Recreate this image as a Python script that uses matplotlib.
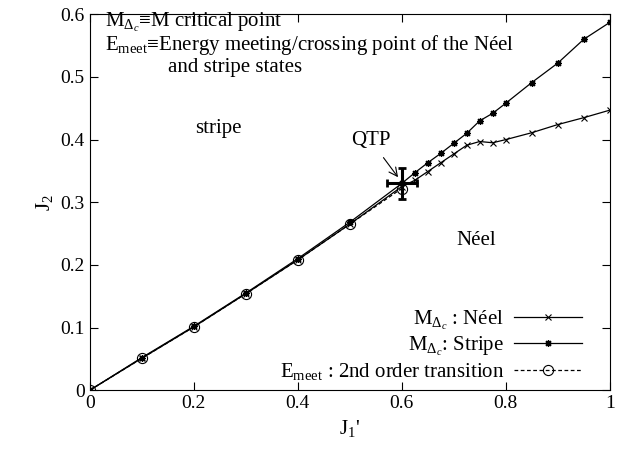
import matplotlib
matplotlib.use("Agg")
import matplotlib.pyplot as plt

plt.rcParams['font.family'] = ['Liberation Serif', 'DejaVu Serif']
plt.rcParams['mathtext.fontset'] = 'custom'
plt.rcParams['mathtext.rm'] = 'Liberation Serif'
plt.rcParams['mathtext.it'] = 'Liberation Serif:italic'
plt.rcParams['font.size'] = 15

# data
j1 = [0, 0.1, 0.2, 0.3, 0.4, 0.5, 0.6, 0.625, 0.65, 0.675, 0.7, 0.725,
      0.75, 0.775, 0.8, 0.85, 0.9, 0.95, 1.0]
neel = [0, 0.051, 0.101, 0.154, 0.208, 0.265, 0.325, 0.335, 0.349, 0.363,
        0.377, 0.391, 0.397, 0.395, 0.400, 0.411, 0.424, 0.435, 0.447]
stripe = [0, 0.052, 0.102, 0.155, 0.210, 0.268, 0.330, 0.347, 0.363, 0.378,
          0.394, 0.410, 0.430, 0.442, 0.458, 0.491, 0.522, 0.560, 0.587]
j1_meet = [0, 0.1, 0.2, 0.3, 0.4, 0.5, 0.6]
e_meet = [0, 0.051, 0.101, 0.154, 0.208, 0.265, 0.322]
qtp_x, qtp_y = 0.6, 0.33
qtp_xerr, qtp_yerr = 0.029, 0.024

fig = plt.figure(figsize=(6.23, 4.57), dpi=100)
ax = fig.add_axes([0.144, 0.146, 0.8346, 0.8227])

ax.plot(j1, neel, color='black', lw=0.9, marker='x', ms=5, mew=0.8,
        label=r'M$_{\Delta_c}$ : Néel')
ax.plot(j1, stripe, color='black', lw=0.9, marker=(8, 2, 0), ms=5, mew=0.9,
        label=r'M$_{\Delta_c}$: Stripe')
ax.plot(j1_meet, e_meet, color='black', lw=0.9, ls=(0, (3, 2)), marker='o',
        ms=7.3, mfc='none', mew=0.8,
        label=r'E$_{\rm meet}$ : 2nd order transition')
ax.errorbar([qtp_x], [qtp_y], xerr=[qtp_xerr], yerr=[qtp_yerr], fmt='none',
            ecolor='black', elinewidth=2.2, capsize=3, capthick=2)

ax.set_xlim(0, 1)
ax.set_ylim(0, 0.6)
ax.set_xticks([0, 0.2, 0.4, 0.6, 0.8, 1.0])
ax.set_xticklabels(['0', '0.2', '0.4', '0.6', '0.8', '1'])
ax.set_yticks([0, 0.1, 0.2, 0.3, 0.4, 0.5, 0.6])
ax.set_yticklabels(['0', '0.1', '0.2', '0.3', '0.4', '0.5', '0.6'])
ax.tick_params(direction='in', top=True, right=True, length=6, width=0.8,
               labelsize=14)
ax.set_xlabel(r"J$_1$'")
ax.set_ylabel(r"J$_2$")

ax.text(0.029, 0.966, r'M$_{\Delta_c}$≡M critical point',
        transform=ax.transAxes, va='baseline', ha='left')
ax.text(0.029, 0.905, r'E$_{\rm meet}$≡Energy meeting/crossing point of the Néel',
        transform=ax.transAxes, va='baseline', ha='left')
ax.text(0.151, 0.847, 'and stripe states', transform=ax.transAxes,
        va='baseline', ha='left')
ax.text(0.247, 0.418, 'stripe', ha='center', va='center')
ax.text(0.744, 0.239, 'Néel', ha='center', va='center')
ax.annotate('QTP', xy=(0.593, 0.340), xytext=(0.541, 0.398),
            ha='center', va='center',
            arrowprops=dict(arrowstyle='->', color='black', lw=0.8,
                            shrinkA=4, shrinkB=0))

ax.legend(loc='lower right', bbox_to_anchor=(1 - 19 / 520, 0),
          frameon=False, markerfirst=False, handlelength=3.3,
          handletextpad=0.45, borderaxespad=0, labelspacing=0.15,
          fontsize=15)

fig.savefig('out.png', dpi=100)
